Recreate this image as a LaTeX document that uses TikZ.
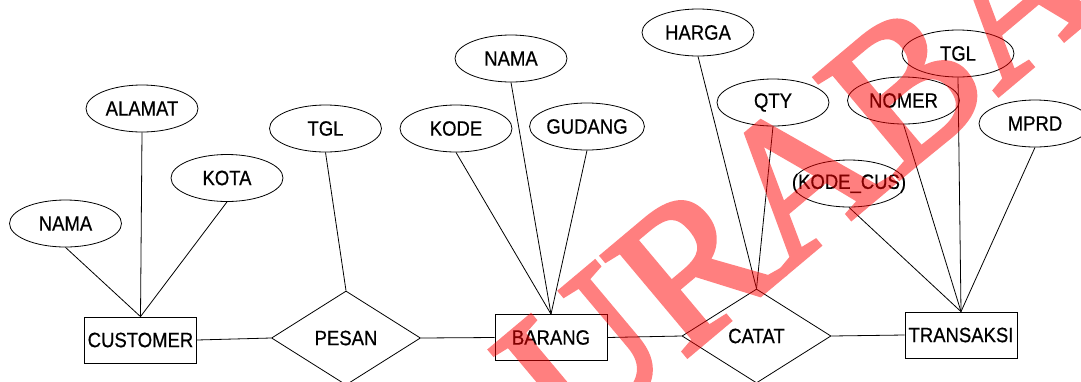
\documentclass[tikz,border=0pt]{standalone}
\usepackage{fontspec}
\setmainfont{Liberation Sans}
\newfontfamily\lblfont[FakeBold=0.6]{Liberation Sans}
\newfontfamily\wmfont[FakeBold=2.5]{Liberation Serif}
\usepackage{graphicx}
\usetikzlibrary{shapes.geometric}

% slightly tall lettering for the labels
\newcommand{\lbl}[1]{\scalebox{1}[1.12]{#1}}

\begin{document}
\begin{tikzpicture}[x=1pt,y=-1pt,
  every node/.style={font=\fontsize{18.5}{20}\selectfont\lblfont, inner sep=0pt},
  entity/.style={draw, line width=0.8pt, rectangle, minimum width=112pt, minimum height=46pt},
  rel/.style={draw, line width=0.8pt, diamond, minimum width=149pt, minimum height=94pt},
  attr/.style={draw, line width=0.8pt, ellipse, minimum width=112pt, minimum height=47pt},
  link/.style={draw, line width=0.8pt},
  stamp/.style={text=red, font=\fontsize{200}{200}\selectfont\wmfont}]

\useasboundingbox[fill=white] (0,0) rectangle (1081,381);

% entities
\node[entity] (customer)  at (140.5,340) {\lbl{CUSTOMER}};
\node[entity] (barang)    at (551,337.5) {\lbl{BARANG}};
\node[entity] (transaksi) at (961,335)   {\lbl{TRANSAKSI}};

% relationships
\node[rel] (pesan) at (346,338) {\lbl{PESAN}};
\node[rel] (catat) at (756.5,336) {\lbl{CATAT}};

% attributes of CUSTOMER
\node[attr] (cnama)  at (65.5,223.5) {\lbl{NAMA}};
\node[attr] (alamat) at (142,108.5)  {\lbl{ALAMAT}};
\node[attr] (kota)   at (227,178)    {\lbl{KOTA}};

% attribute of PESAN
\node[attr] (ptgl) at (325.5,128.5) {\lbl{TGL}};

% attributes of BARANG
\node[attr] (kode)   at (456,128.5) {\lbl{KODE}};
\node[attr] (gudang) at (587,126.5) {\lbl{GUDANG}};
\node[attr] (bnama)  at (511,58.5)  {\lbl{NAMA}};

% attributes of CATAT
\node[attr] (harga) at (698,32.5)  {\lbl{HARGA}};
\node[attr] (qty)   at (773,102.5) {\lbl{QTY}};

% attributes of TRANSAKSI
\node[attr] (ttgl)  at (958,53.5)    {\lbl{TGL}};
\node[attr] (nomer) at (903.5,100.5) {\lbl{NOMER}};
\node[attr] (mprd)  at (1035,123.5)  {\lbl{MPRD}};
\node[attr] (kcus)  at (849,183.5)   {};
\node[fill=white, inner sep=0.3pt] at (kcus) {\lbl{(KODE\_CUS)}};

% attribute links
\draw[link] (cnama.south)  -- (customer.north);
\draw[link] (alamat.south) -- (customer.north);
\draw[link] (kota.south)   -- (customer.north);
\draw[link] (ptgl.south)   -- (pesan.north);
\draw[link] (kode.south)   -- (barang.north);
\draw[link] (bnama.south)  -- (barang.north);
\draw[link] (gudang.south) -- (barang.north);
\draw[link] (harga.south)  -- (catat.north);
\draw[link] (qty.south)    -- (catat.north);
\draw[link] (kcus.south)   -- (transaksi.north);
\draw[link] (nomer.south)  -- (transaksi.north);
\draw[link] (ttgl.south)   -- (transaksi.north);
\draw[link] (mprd.south)   -- (transaksi.north);

% relationship links
\draw[link] (customer.east) -- (pesan.west);
\draw[link] (pesan.east)    -- (barang.west);
\draw[link] (barang.east)   -- (catat.west);
\draw[link] (catat.east)    -- (transaksi.west);

% red stamp across the page, composited as one translucent layer
\begin{scope}[transparency group, opacity=0.5]
  \node[stamp, rotate=40] (wm) at (798,178) {URABA};
\end{scope}

\end{tikzpicture}
\end{document}
